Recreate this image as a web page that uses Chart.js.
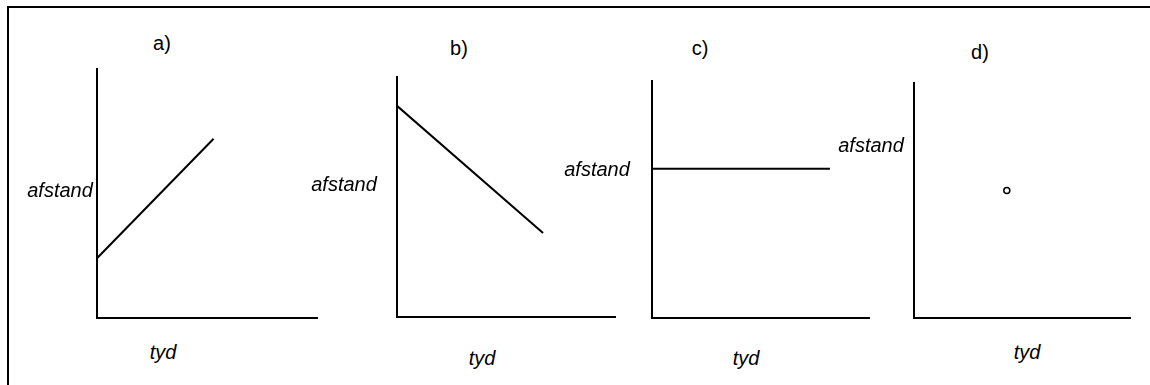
<!DOCTYPE html>
<html>
<head>
<meta charset="utf-8">
<script src="https://cdn.jsdelivr.net/npm/chart.js@4"></script>
<style>
  body { margin: 0; background: #fff; width: 1150px; height: 385px; overflow: hidden; position: relative;
         font-family: "Liberation Sans", Arial, sans-serif; color: #000; }
  #frame { position: absolute; left: 7px; top: 6px; right: 0; bottom: 0;
           border-top: 2px solid #000; border-left: 2px solid #000; }
  canvas { position: absolute; }
  .lbl { position: absolute; transform: translate(-50%, -50%); white-space: nowrap; }
  .ax { font-style: italic; font-size: 20px; }
  .tag { font-size: 20px; }
</style>
</head>
<body>
<div id="frame"></div>
<script>
// data
const panelTags = ['a)', 'b)', 'c)', 'd)'];
const yTitle = 'afstand';
const xTitle = 'tyd';
const lineA = [{x: 0, y: 2.4}, {x: 5.3, y: 7.2}];   // stijgende lijn
const lineB = [{x: 0, y: 8.8}, {x: 6.7, y: 3.5}];   // dalende lijn
const lineC = [{x: 0, y: 6.3}, {x: 8.2, y: 6.3}];   // horizontale lijn
const pointD = [{x: 4.3, y: 5.4}];                   // los punt

const seriesList = [lineA, lineB, lineC, pointD];

// layout of each small panel (axes box + label spots), in page pixels
const panels = [
  {box: [97, 69, 220, 249],  tag: [162, 43], yl: [60, 190],  xl: [163, 352]},
  {box: [397, 77, 218, 240], tag: [459, 48], yl: [344, 184], xl: [482, 358]},
  {box: [652, 81, 217, 237], tag: [700, 48], yl: [597, 169], xl: [746, 358]},
  {box: [912, 81, 220, 238], tag: [980, 52], yl: [871, 145], xl: [1027, 352]}
];
const pad = 4;

function addLabel(text, pos, cls) {
  const d = document.createElement('div');
  d.className = 'lbl ' + cls;
  d.textContent = text;
  d.style.left = pos[0] + 'px';
  d.style.top = pos[1] + 'px';
  document.body.appendChild(d);
}

const axisOpts = {
  type: 'linear', min: 0, max: 10,
  ticks: {display: false, padding: 0},
  grid: {display: false, drawTicks: false, tickLength: 0},
  border: {display: true, color: '#000', width: 2}
};

panels.forEach((p, i) => {
  const c = document.createElement('canvas');
  c.width = p.box[2] + 2 * pad;
  c.height = p.box[3] + 2 * pad;
  c.style.left = (p.box[0] - pad) + 'px';
  c.style.top = (p.box[1] - pad) + 'px';
  document.body.appendChild(c);

  const isPoint = seriesList[i].length === 1;
  new Chart(c.getContext('2d'), {
    type: 'scatter',
    data: {
      datasets: [{
        data: seriesList[i],
        showLine: !isPoint,
        borderColor: '#000',
        borderWidth: 2,
        pointRadius: isPoint ? 3 : 0,
        pointBorderWidth: 1.5,
        pointBackgroundColor: '#fff',
        pointBorderColor: '#000'
      }]
    },
    options: {
      responsive: false,
      animation: false,
      layout: {padding: pad},
      plugins: {legend: {display: false}, tooltip: {enabled: false}},
      scales: {x: axisOpts, y: axisOpts}
    }
  });

  addLabel(panelTags[i], p.tag, 'tag');
  addLabel(yTitle, p.yl, 'ax');
  addLabel(xTitle, p.xl, 'ax');
});
</script>
</body>
</html>
